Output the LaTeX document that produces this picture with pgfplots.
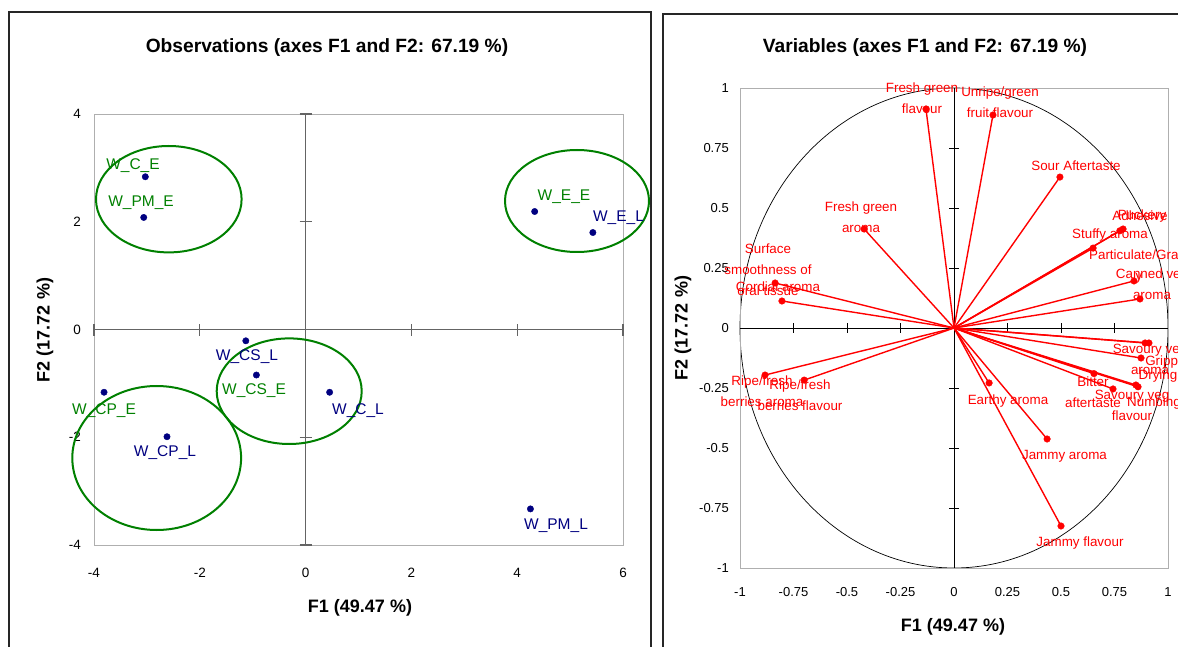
\documentclass[border=0pt]{standalone}
\usepackage{fontspec}
\setmainfont{Liberation Sans}
\usepackage{pgfplots}
\usepackage{pgfplotstable}
\pgfplotsset{compat=1.18}
\definecolor{obsblue}{RGB}{0,0,128}
\definecolor{grpgreen}{RGB}{0,128,0}
\definecolor{varred}{RGB}{255,0,0}
\definecolor{boxgray}{RGB}{175,175,175}
\definecolor{zerogray}{RGB}{100,100,100}

% Observations (F1, F2)
\pgfplotstableread{
x y
-3.03 2.835
-3.06 2.08
4.33 2.19
5.43 1.80
-1.13 -0.21
-0.93 -0.845
0.454 -1.165
-3.81 -1.165
-2.62 -1.99
4.25 -3.33
}\obs

% Variables (F1, F2)
\pgfplotstableread{
x y
-0.131 0.9125
0.182 0.8875
0.495 0.629
-0.42 0.4125
0.79 0.4125
0.775 0.405
0.65 0.333
0.841 0.196
0.869 0.121
-0.804 0.1125
-0.836 0.1875
-0.883 -0.196
-0.70 -0.217
0.893 -0.0625
0.911 -0.0625
0.874 -0.125
0.850 -0.2375
0.654 -0.19
0.743 -0.254
0.86 -0.245
0.164 -0.229
0.435 -0.4625
0.50 -0.825
}\vars

\newcommand{\lab}[4][]{\node[#1] at ({#2pt},{646pt-#3pt}) {#4};}
\newcommand{\grpell}[4]{\draw[grpgreen, line width=2pt] ({#1pt},{646pt-#2pt}) ellipse [x radius=#3pt, y radius=#4pt];}
\tikzset{
  vl/.style={text=varred, font=\fontsize{13.4}{21}\selectfont, align=center, inner sep=0pt},
  ol/.style={font=\fontsize{15.5}{16}\selectfont, inner sep=0pt},
  tl/.style={font=\bfseries\fontsize{18}{18}\selectfont, inner sep=0pt},
  ttl/.style={font=\bfseries\fontsize{19.2}{19}\selectfont, inner sep=0pt},
}

\begin{document}
\begin{tikzpicture}
\useasboundingbox (0pt,0pt) rectangle (1178pt,646pt);
% panel frames
\draw[black!85, line width=1.5pt] (9pt,-10pt) -- (9pt,634pt) -- (651pt,634pt) -- (651pt,-10pt);
\draw[black!85, line width=1.2pt] (663pt,-10pt) -- (663pt,632pt) -- (1200pt,632pt);

% ---------- Observations ----------
\begin{axis}[at={(94pt,101pt)}, anchor=south west, scale only axis,
  width=529pt, height=431pt,
  xmin=-4, xmax=6, ymin=-4, ymax=4, clip=false,
  axis line style={boxgray, line width=0.8pt},
  xtick={-4,-2,0,2,4,6}, ytick={-4,-2,0,2,4},
  major tick length=0pt,
  /pgf/number format/assume math mode=true,
  ticklabel style={font=\fontsize{13.5}{13}\selectfont, inner sep=0pt},
  xticklabel style={anchor=center, yshift=-28pt},
  yticklabel style={anchor=east, xshift=-13pt}]
\draw[zerogray, line width=1.3pt] (axis cs:0,-4) -- (axis cs:0,4);
\draw[zerogray, line width=1.3pt] (axis cs:-4,0) -- (axis cs:6,0);
\pgfplotsinvokeforeach{-4,-2,2,4,6}{\draw[zerogray, line width=1.1pt] (axis cs:#1,0) ++(0pt,-6pt) -- ++(0pt,12pt);}
\pgfplotsinvokeforeach{-4,-2,2,4}{\draw[zerogray, line width=1.1pt] (axis cs:0,#1) ++(-6pt,0pt) -- ++(12pt,0pt);}
\addplot[only marks, mark=*, mark size=3.2pt, obsblue] table {\obs};
\end{axis}

\grpell{168.8}{199.2}{72.8}{53.2}
\grpell{577}{201}{72}{51}
\grpell{289.2}{391.2}{72.5}{52.8}
\grpell{156.7}{458}{84.4}{72}

\lab[ol,text=grpgreen]{133}{166}{W\_C\_E}
\lab[ol,text=grpgreen]{141}{203}{W\_PM\_E}
\lab[ol,text=grpgreen]{564}{197}{W\_E\_E}
\lab[ol,text=obsblue]{618.5}{218}{W\_E\_L}
\lab[ol,text=obsblue]{247}{357}{W\_CS\_L}
\lab[ol,text=grpgreen]{254}{390.7}{W\_CS\_E}
\lab[ol,text=obsblue]{358}{410.7}{W\_C\_L}
\lab[ol,text=grpgreen]{104}{410.7}{W\_CP\_E}
\lab[ol,text=obsblue]{165}{453}{W\_CP\_L}
\lab[ol,text=obsblue]{556}{526}{W\_PM\_L}

\lab[ttl]{327}{48}{Observations (axes F1 and F2: 67.19 \%)}
\lab[tl]{360}{608}{F1 (49.47 \%)}
\lab[tl,rotate=90]{45}{330}{F2 (17.72 \%)}

% ---------- Variables ----------
\draw[black, line width=0.7pt] (954pt,318pt) ellipse [x radius=214pt, y radius=240pt];
\begin{axis}[at={(740pt,78pt)}, anchor=south west, scale only axis,
  width=428pt, height=480pt,
  xmin=-1, xmax=1, ymin=-1, ymax=1, clip=false,
  axis line style={boxgray, line width=0.8pt},
  xtick={-1,-0.75,-0.5,-0.25,0,0.25,0.5,0.75,1},
  ytick={-1,-0.75,-0.5,-0.25,0,0.25,0.5,0.75,1},
  major tick length=0pt,
  /pgf/number format/assume math mode=true,
  ticklabel style={font=\fontsize{13}{13}\selectfont, inner sep=0pt},
  xticklabel style={anchor=center, yshift=-24pt},
  yticklabel style={anchor=east, xshift=-11pt}]
\draw[black, line width=0.9pt] (axis cs:0,-1) -- (axis cs:0,1);
\draw[black, line width=0.9pt] (axis cs:-1,0) -- (axis cs:1,0);
\pgfplotsinvokeforeach{-0.75,-0.5,-0.25,0.25,0.5,0.75}{\draw[black, line width=0.9pt] (axis cs:#1,0) ++(0pt,-5pt) -- ++(0pt,10pt);}
\pgfplotsinvokeforeach{-0.75,-0.5,-0.25,0.25,0.5,0.75}{\draw[black, line width=0.9pt] (axis cs:0,#1) ++(-5pt,0pt) -- ++(10pt,0pt);}
\addplot[varred, line width=1.4pt, -, quiver={u=\thisrow{x}, v=\thisrow{y}}] table[x expr=0, y expr=0] {\vars};
\addplot[only marks, mark=*, mark size=3.3pt, varred] table {\vars};
\end{axis}

\lab[vl]{922}{98}{Fresh green\\flavour}
\lab[vl]{1000}{102.5}{Unripe/green\\fruit flavour}
\lab[vl]{1076}{166}{Sour Aftertaste}
\lab[vl]{861}{217.5}{Fresh green\\aroma}
\lab[vl]{1140}{216}{Adhesive}
\lab[vl]{1142}{216}{Puckery}
\lab[vl]{1110}{235}{Stuffy aroma}
\lab[vl]{1139}{267}{Particulate/Grain\\y}
\lab[vl]{1152}{284.5}{Canned veg\\aroma}
\lab[vl]{768}{270}{Surface\\smoothness of\\oral tissue}
\lab[vl]{778}{287}{Cordial aroma}
\lab[vl]{762}{391.5}{Ripe/fresh\\berries aroma}
\lab[vl]{800}{395.5}{Ripe/fresh\\berries flavour}
\lab[vl]{1150}{359.5}{Savoury veg\\aroma}
\lab[vl]{1165}{362}{Grippy}
\lab[vl]{1158}{376}{Drying}
\lab[vl]{1093}{392}{Bitter\\aftertaste}
\lab[vl]{1132}{405}{Savoury veg\\flavour}
\lab[vl]{1154}{403}{Numbing}
\lab[vl]{1008}{401}{Earthy aroma}
\lab[vl]{1064.5}{456}{Jammy aroma}
\lab[vl]{1080}{543}{Jammy flavour}

\lab[ttl]{925}{48}{Variables (axes F1 and F2: 67.19 \%)}
\lab[tl]{953}{627}{F1 (49.47 \%)}
\lab[tl,rotate=90]{683}{328}{F2 (17.72 \%)}
\end{tikzpicture}
\end{document}
